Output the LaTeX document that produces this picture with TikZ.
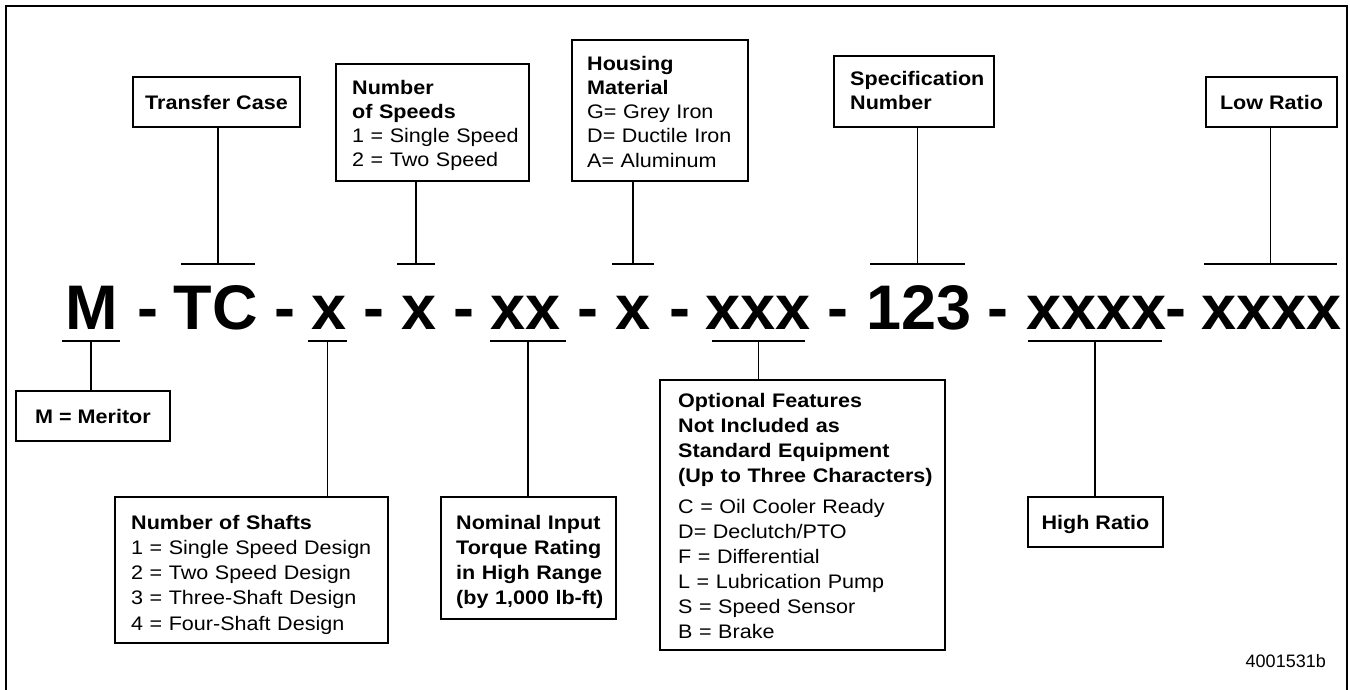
\documentclass[tikz,border=0pt]{standalone}
\usepackage{fontspec}
\setmainfont{Liberation Sans}
\newfontfamily\lblfont{Liberation Sans}[FakeStretch=1.1]
\begin{document}
\begin{tikzpicture}[x=1pt,y=-1pt,
  frame/.style={line width=2pt},
  box/.style={draw, line width=1.7pt, inner sep=0pt},
  onebox/.style={box, font=\lblfont\fontsize{19.6}{24}\selectfont\bfseries, text height=14pt, text depth=0pt},
  lbl/.style={inner sep=0pt, anchor=base west, align=left, text width=#1},
  code/.style={font=\fontsize{63}{63}\selectfont\bfseries, inner sep=0pt, anchor=base},
  bar/.style={line width=1.7pt},
  lead/.style={line width=1.7pt}]
\useasboundingbox (0,0) rectangle (1350,689);
% outer frame (open at the bottom edge)
\draw[frame] (5.5,695) -- (5.5,5.5) -- (1346.5,5.5) -- (1346.5,695);

% code line
\node[code] (cM)   at (91.5,329) {M};
\node[code] (d1)   at (148,329) {-};
\node[code] (cTC)  at (215.5,329) {TC};
\node[code] (d2)   at (284.5,329) {-};
\node[code] (cXa)  at (329,329) {x};
\node[code] (d3)   at (374,329) {-};
\node[code] (cXb)  at (419,329) {x};
\node[code] (d4)   at (464,329) {-};
\node[code] (cXX)  at (526,329) {xx};
\node[code] (d5)   at (588,329) {-};
\node[code] (cXc)  at (633.5,329) {x};
\node[code] (d6)   at (679.5,329) {-};
\node[code] (cXXX) at (758,329) {xxx};
\node[code] (d7)   at (837.5,329) {-};
\node[code] (cNum) at (919,329) {123};
\node[code] (d8)   at (998,329) {-};
\node[code] (cHi)  at (1096.5,329) {xxxx};
\node[code] (d9)   at (1175.5,329) {-};
\node[code] (cLo)  at (1271.5,329) {xxxx};

% boxes above
\node[onebox, minimum width=167pt, minimum height=50pt] (tcbox) at (216.5,102) {Transfer Case};
\node[box, minimum width=193pt, minimum height=117pt] (spdbox) at (432.5,122.5) {};
\node[lbl=180pt, font=\lblfont\fontsize{19.6}{24}\selectfont] (spdtxt) at (352,94)
  {\textbf{Number}\\\textbf{of Speeds}\\1 = Single Speed\\2 = Two Speed};
\node[box, minimum width=176pt, minimum height=141pt] (hsgbox) at (660,110.5) {};
\node[lbl=165pt, font=\lblfont\fontsize{19.6}{24.25}\selectfont] (hsgtxt) at (587,70)
  {\textbf{Housing}\\\textbf{Material}\\G= Grey Iron\\D= Ductile Iron\\A= Aluminum};
\node[box, minimum width=160pt, minimum height=71pt] (specbox) at (914,91.5) {};
\node[lbl=150pt, font=\lblfont\fontsize{19.6}{24}\selectfont\bfseries] (spectxt) at (850,85)
  {Specification\\Number};
\node[onebox, minimum width=131pt, minimum height=50pt] (lowbox) at (1271.5,102) {Low Ratio};

% boxes below
\node[onebox, minimum width=154pt, minimum height=50pt] (merbox) at (93,416) {M = Meritor};
\node[box, minimum width=273pt, minimum height=146pt] (shfbox) at (251.5,570) {};
\node[lbl=260pt, font=\lblfont\fontsize{19.6}{25.25}\selectfont] (shftxt) at (131,529)
  {\textbf{Number of Shafts}\\1 = Single Speed Design\\2 = Two Speed Design\\3 = Three-Shaft Design\\4 = Four-Shaft Design};
\node[box, minimum width=175pt, minimum height=122pt] (nombox) at (528.5,558) {};
\node[lbl=165pt, font=\lblfont\fontsize{19.6}{25.3}\selectfont\bfseries] (nomtxt) at (456,529)
  {Nominal Input\\Torque Rating\\in High Range\\(by 1,000 lb-ft)};
\node[box, minimum width=285pt, minimum height=270pt] (optbox) at (802.5,515) {};
\node[lbl=270pt, font=\lblfont\fontsize{19.6}{25}\selectfont] (opttxt) at (678,407)
  {\textbf{Optional Features}\\\textbf{Not Included as}\\\textbf{Standard Equipment}\\\textbf{(Up to Three Characters)}\\[6pt]
   C = Oil Cooler Ready\\D= Declutch/PTO\\F = Differential\\L = Lubrication Pump\\S = Speed Sensor\\B = Brake};
\node[onebox, minimum width=135pt, minimum height=50pt] (hibox) at (1095.5,522) {High Ratio};

% figure number
\node[inner sep=0pt, anchor=base east, font=\fontsize{18}{18}\selectfont] (fignum) at (1326,667) {4001531b};

% bars above the code
\coordinate (tTCl) at (181,264);  \coordinate (tTCr) at (255,264);
\coordinate (tXbl) at (397,264);  \coordinate (tXbr) at (435,264);
\coordinate (tXcl) at (612,264);  \coordinate (tXcr) at (654,264);
\coordinate (tNuml) at (870,264); \coordinate (tNumr) at (965,264);
\coordinate (tLol) at (1204,264); \coordinate (tLor) at (1337,264);
\draw[bar] (tTCl) -- coordinate (tTC) (tTCr);
\draw[bar] (tXbl) -- coordinate (tXb) (tXbr);
\draw[bar] (tXcl) -- coordinate (tXc) (tXcr);
\draw[bar] (tNuml) -- coordinate (tNum) (tNumr);
\draw[bar] (tLol) -- coordinate (tLo) (tLor);
% bars below the code
\coordinate (bMl) at (62,341);     \coordinate (bMr) at (120,341);
\coordinate (bXal) at (308,341);   \coordinate (bXar) at (347,341);
\coordinate (bXXl) at (490,341);   \coordinate (bXXr) at (566,341);
\coordinate (bXXXl) at (712,341);  \coordinate (bXXXr) at (805,341);
\coordinate (bHil) at (1028,341);  \coordinate (bHir) at (1162,341);
\draw[bar] (bMl) -- coordinate (bM) (bMr);
\draw[bar] (bXal) -- coordinate (bXa) (bXar);
\draw[bar] (bXXl) -- coordinate (bXX) (bXXr);
\draw[bar] (bXXXl) -- coordinate (bXXX) (bXXXr);
\draw[bar] (bHil) -- coordinate (bHi) (bHir);

% leaders
\draw[lead] (tTC) -- (tTC |- tcbox.south);
\draw[lead] (tXb) -- (tXb |- spdbox.south);
\draw[lead] (tXc) -- (tXc |- hsgbox.south);
\draw[lead] (tNum) -- (tNum |- specbox.south);
\draw[lead] (tLo) -- (tLo |- lowbox.south);
\draw[lead] (bM) -- (bM |- merbox.north);
\draw[lead] (bXa) -- (bXa |- shfbox.north);
\draw[lead] (bXX) -- (bXX |- nombox.north);
\draw[lead] (bXXX) -- (bXXX |- optbox.north);
\draw[lead] (bHi) -- (bHi |- hibox.north);
\end{tikzpicture}
\end{document}
